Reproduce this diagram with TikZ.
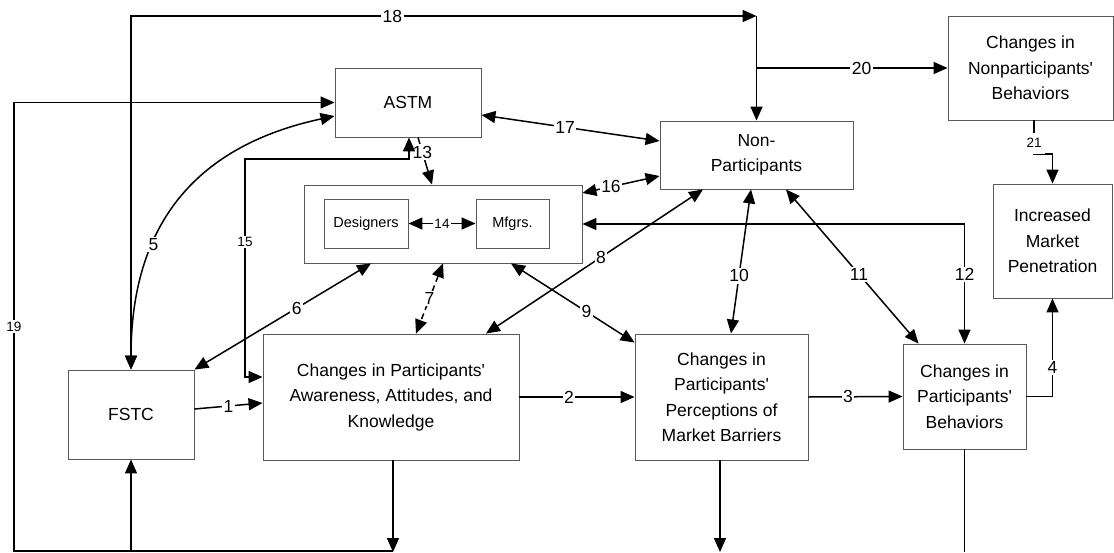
\documentclass[tikz,border=0pt]{standalone}
\usepackage{fontspec}
\newfontfamily\af{Liberation Sans}
\usetikzlibrary{arrows.meta,calc}
\begin{document}
\begin{tikzpicture}[x=1pt,y=-1pt,
  >={Triangle[length=14pt,width=12pt]},
  box/.style={draw=black!65,line width=0.9pt,inner sep=0pt,align=center,font=\af\fontsize{17.5}{25.5}\selectfont},
  sbox/.style={box,font=\af\fontsize{14.5}{17}\selectfont},
  conn/.style={line width=1.5pt,draw=black},
  lbl/.style={fill=white,inner sep=1.5pt,font=\af\fontsize{17.5}{20}\selectfont},
  slbl/.style={lbl,font=\af\fontsize{13.5}{16}\selectfont}]
\useasboundingbox (0,0) rectangle (1114,552);

% boxes
\node[box,minimum width=146pt,minimum height=69pt] (astm) at (408,102.5) {ASTM};
\node[box,minimum width=193pt,minimum height=68pt] (np) at (756.5,155) {Non-\\Participants};
\node[box,minimum width=165pt,minimum height=104pt] (cnb) at (1030.5,68) {Changes in\\Nonparticipants'\\Behaviors};
\node[box,minimum width=119pt,minimum height=114pt] (imp) at (1052.5,241) {Increased\\Market\\Penetration};
\node[box,minimum width=278pt,minimum height=78pt] (org) at (443,224) {};
\node[sbox,minimum width=84pt,minimum height=49pt] (des) at (366,223.5) {Designers};
\node[sbox,minimum width=73pt,minimum height=49pt] (mfg) at (512.5,223.5) {Mfgrs.};
\node[box,minimum width=126pt,minimum height=89pt] (fstc) at (131,414.5) {FSTC};
\node[box,minimum width=256pt,minimum height=126pt] (aware) at (391,397) {Changes in Participants'\\Awareness, Attitudes, and\\Knowledge};
\node[box,minimum width=173pt,minimum height=126pt] (perc) at (721.5,397) {Changes in\\Participants'\\Perceptions of\\Market Barriers};
\node[box,minimum width=123pt,minimum height=105pt] (beh) at (964.5,396.5) {Changes in\\Participants'\\Behaviors};

% free ends
\coordinate (c15) at (245,159);
\coordinate (c18) at (756.5,16);
\coordinate (c19) at (14,551);
\coordinate (c21) at (1052.5,154);
\coordinate (ea) at (393,552);
\coordinate (ep) at (720,552);
\coordinate (eb) at (964.5,552);

% connectors
\draw[conn,->] ([yshift=5.5pt]fstc.east) -- node[lbl]{1} ([yshift=-6pt]aware.west);
\draw[conn,->] (aware.east) -- node[lbl,pos=0.43]{2} (perc.west);
\draw[conn,->] (perc.east) -- node[lbl,pos=0.42]{3} (beh.west);
\draw[conn,->] (beh.east) -| node[lbl,pos=0.65]{4} (imp.south);
\draw[conn,<->] (fstc.north) .. controls (131,220) and (200,145) .. node[lbl,pos=0.33]{5} ([yshift=-13.5pt]astm.west);
\draw[conn,<->] ([xshift=-72pt]org.south) -- node[lbl,pos=0.42]{6} (fstc.north east);
\draw[conn,<->,dash pattern=on 6pt off 4pt] (org.south) -- node[lbl]{7} ([xshift=25pt]aware.north);
\draw[conn,<->] ([xshift=-53.5pt]np.south) -- node[lbl,pos=0.47]{8} ([xshift=95pt]aware.north);
\draw[conn,<->] ([xshift=68pt]org.south) -- node[lbl,pos=0.61]{9} ([yshift=-9pt]perc.north west);
\draw[conn,<->] ([xshift=-5.5pt]np.south) -- node[lbl,pos=0.6]{10} ([xshift=9.5pt]perc.north);
\draw[conn,<->] ([xshift=29.5pt]np.south) -- node[lbl,pos=0.55]{11} ([xshift=16pt]beh.north west);
\draw[conn,<->] (beh.north) |- node[lbl,pos=0.29]{12} (org.east);
\draw[conn,->] ([xshift=10pt]astm.south) -- node[lbl,pos=0.31]{13} ([xshift=-11pt]org.north);
\draw[conn,<->] (des.east) -- node[slbl]{14} (mfg.west);
\draw[conn,<->] ([xshift=1pt]astm.south) |- (c15) |- node[slbl,pos=0.19]{15} ([yshift=20pt]aware.west);
\draw[conn,<->] ([yshift=31pt]org.east) -- node[lbl,pos=0.37]{16} ([yshift=-21pt]np.west);
\draw[conn,<->] ([yshift=-12.5pt]astm.east) -- node[lbl,pos=0.47]{17} ([yshift=14pt]np.west);
\draw[conn,<->] (fstc.north) |- node[lbl,pos=0.709]{18} (c18);
\draw[conn,->] (c18) -- (np.north);
\draw[conn,->] (ea |- c19) -- (c19) |- node[slbl,pos=0.25]{19} (astm.west);
\draw[conn,->] (fstc.south |- c19) -- (fstc.south);
\draw[conn,->] (c18 |- cnb.west) -- node[lbl,pos=0.55]{20} (cnb.west);
\draw[conn,->] ([xshift=3.5pt]cnb.south) |- node[slbl,inner xsep=3pt,inner ysep=6pt,pos=0.34]{21} (c21) -- (imp.north);
\draw[conn,->] (aware.south -| ea) -- (ea);
\draw[conn,->] (perc.south -| ep) -- (ep);
\draw[conn] (beh.south) -- (eb);
\end{tikzpicture}
\end{document}
